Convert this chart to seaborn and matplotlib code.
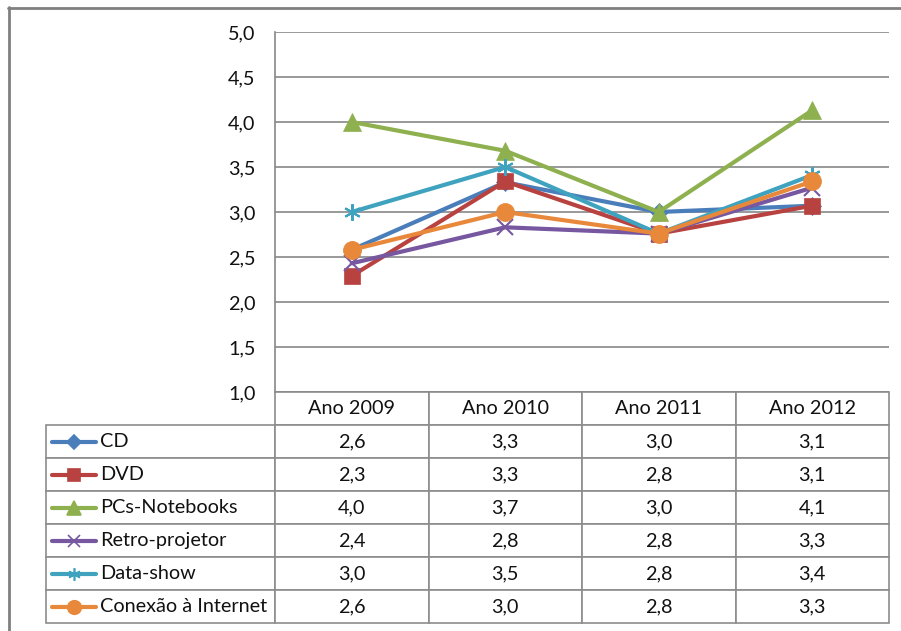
import matplotlib
matplotlib.use("Agg")
import matplotlib.pyplot as plt
import pandas as pd
import seaborn as sns
from matplotlib.lines import Line2D

# data (table shows rounded values)
years = ["Ano 2009", "Ano 2010", "Ano 2011", "Ano 2012"]
series = ["CD", "DVD", "PCs-Notebooks", "Retro-projetor", "Data-show", "Conexão à Internet"]
cd = [2.58, 3.33, 3.0, 3.07]
dvd = [2.29, 3.34, 2.76, 3.07]
pcs = [4.0, 3.68, 3.0, 4.13]
retro = [2.43, 2.83, 2.76, 3.27]
datashow = [3.0, 3.5, 2.76, 3.41]
internet = [2.58, 3.0, 2.76, 3.34]
table_text = [
    ["2,6", "3,3", "3,0", "3,1"],
    ["2,3", "3,3", "2,8", "3,1"],
    ["4,0", "3,7", "3,0", "4,1"],
    ["2,4", "2,8", "2,8", "3,3"],
    ["3,0", "3,5", "2,8", "3,4"],
    ["2,6", "3,0", "2,8", "3,3"],
]
yticks = [1.0, 1.5, 2.0, 2.5, 3.0, 3.5, 4.0, 4.5, 5.0]
ytick_labels = ["1,0", "1,5", "2,0", "2,5", "3,0", "3,5", "4,0", "4,5", "5,0"]

colors = ["#4A7EBB", "#B8423F", "#8EB04E", "#7657A0", "#3FA3BF", "#E8883A"]
markers = ["D", "s", "^", "x", (6, 2, 0), "o"]
msizes = [9, 12, 13, 12, 12, 13]

values = [cd, dvd, pcs, retro, datashow, internet]
df = pd.DataFrame({
    "x": list(range(len(years))) * len(series),
    "valor": [v for vals in values for v in vals],
    "serie": [s for s in series for _ in years],
})

sns.set_theme(style="white")
plt.rcParams["font.family"] = ["Lato", "DejaVu Sans"]
FS = 14.3
GRID = "#878787"

W, H = 901, 631
fig = plt.figure(figsize=(W / 100, H / 100), dpi=100)
ax = fig.add_axes([275 / W, (H - 392) / H, 614 / W, 360 / H])

for i, s in enumerate(series):
    unfilled = markers[i] in ("x",) or isinstance(markers[i], tuple)
    sns.lineplot(data=df[df["serie"] == s], x="x", y="valor", ax=ax,
                 color=colors[i], linewidth=3, marker=markers[i],
                 markersize=msizes[i], markeredgecolor=colors[i],
                 markeredgewidth=1.5 if unfilled else 0.5, legend=False,
                 zorder=3 + i)

ax.set_xlim(-0.5, len(years) - 0.5)
ax.set_ylim(1, 5)
ax.set_yticks(yticks)
ax.set_yticklabels(ytick_labels, fontsize=FS)
ax.set_xticks([])
ax.set_xlabel("")
ax.set_ylabel("")
ax.tick_params(axis="y", length=0, pad=14, colors="#111111")
ax.grid(axis="y", color=GRID, linewidth=1.2)
ax.grid(axis="x", visible=False)
for side in ["top", "right", "bottom"]:
    ax.spines[side].set_visible(False)
ax.spines["left"].set_color(GRID)
ax.spines["left"].set_linewidth(1.2)

# data table under the plot (first column holds the series names)
x0 = (46 - 275) / 614
tw = (889 - 46) / 614
th = (623 - 392) / 360
cells = [[s] + row for s, row in zip(series, table_text)]
tab = ax.table(cellText=cells, colLabels=[""] + years, cellLoc="center",
               colWidths=[229 / 843] + [153.5 / 843] * 4,
               bbox=[x0, -th, tw, th])
tab.auto_set_font_size(False)
tab.set_fontsize(FS)
for (r, c), cell in tab.get_celld().items():
    cell.set_edgecolor("#8c8c8c")
    cell.set_linewidth(1.2)
    cell.get_text().set_color("#111111")
    if c == 0:
        cell.get_text().set_horizontalalignment("left")
        cell.PAD = 54 / 229
        if r == 0:
            cell.visible_edges = ""

# legend keys inside the series name cells
for i in range(len(series)):
    yc = (392 - (425 + 33 * (i + 0.5))) / 360
    ax.add_line(Line2D([(52 - 275) / 614, (96 - 275) / 614], [yc, yc],
                       transform=ax.transAxes, clip_on=False,
                       color=colors[i], linewidth=3))
    ax.add_line(Line2D([(74 - 275) / 614], [yc], transform=ax.transAxes,
                       clip_on=False, color=colors[i], marker=markers[i],
                       markersize=msizes[i] * 0.75, markeredgecolor=colors[i],
                       markeredgewidth=1.2, linestyle="none"))

# outer chart frame
fig.add_artist(Line2D([8.5 / W, 8.5 / W], [0, 1 - 7 / H], color="#808080", linewidth=2))
fig.add_artist(Line2D([8 / W, 1], [1 - 7.5 / H, 1 - 7.5 / H], color="#808080", linewidth=2))

fig.savefig("out.png", dpi=100)
